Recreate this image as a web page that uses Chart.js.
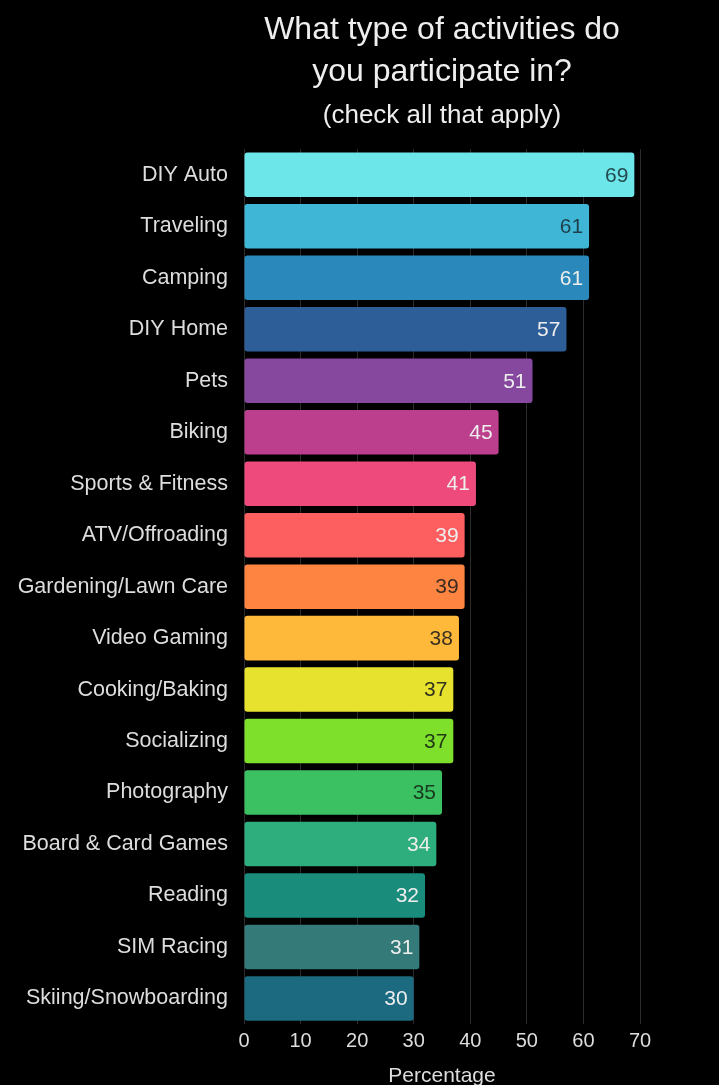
<!DOCTYPE html>
<html>
<head>
<meta charset="utf-8">
<script src="https://cdn.jsdelivr.net/npm/chart.js@4.4.1/dist/chart.umd.min.js"></script>
<style>
  html, body { margin: 0; padding: 0; background: #000; }
  #wrap { width: 719px; height: 1085px; }
</style>
</head>
<body>
<div id="wrap"><canvas id="activitiesChart"></canvas></div>
<script>
const activities = ['DIY Auto', 'Traveling', 'Camping', 'DIY Home', 'Pets', 'Biking', 'Sports & Fitness',
    'ATV/Offroading', 'Gardening/Lawn Care', 'Video Gaming', 'Cooking/Baking', 'Socializing',
    'Photography', 'Board & Card Games', 'Reading', 'SIM Racing', 'Skiing/Snowboarding'];
const percentages = [69, 61, 61, 57, 51, 45, 41, 39, 39, 38, 37, 37, 35, 34, 32, 31, 30];
const barColors = ['#6de6ea', '#3fb6d6', '#2a89ba', '#2d5e98', '#86479e', '#bc3f8e', '#ee4b7c',
    '#fd5e5f', '#fe8442', '#ffb93a', '#e7e22d', '#7fe02c', '#3cc162', '#2fae7d', '#1a8c7b',
    '#347a78', '#1b6a80'];
const valueColors = ['#234b50', '#1f3f4a', '#eeeeee', '#eeeeee', '#eeeeee', '#eeeeee', '#eeeeee',
    '#eeeeee', '#3a2a20', '#3a3020', '#333320', '#223a15', '#16391f', '#eeeeee', '#eeeeee',
    '#eeeeee', '#eeeeee'];
const xTicks = [0, 10, 20, 30, 40, 50, 60, 70];

const fontFamily = '"Liberation Sans", Arial, sans-serif';

// numbers written inside the end of each bar
const valueLabels = {
    id: 'valueLabels',
    afterDatasetsDraw(chart) {
        const ctx = chart.ctx;
        const meta = chart.getDatasetMeta(0);
        ctx.save();
        ctx.font = '21px ' + fontFamily;
        ctx.textAlign = 'right';
        ctx.textBaseline = 'middle';
        meta.data.forEach((bar, i) => {
            ctx.fillStyle = valueColors[i];
            ctx.fillText(percentages[i], bar.x - 6, bar.y + 1);
        });
        ctx.restore();
    }
};

new Chart(document.getElementById('activitiesChart'), {
    type: 'bar',
    data: {
        labels: activities,
        datasets: [{
            data: percentages,
            backgroundColor: barColors,
            borderRadius: 3,
            borderSkipped: false,
            barPercentage: 0.865,
            categoryPercentage: 1
        }]
    },
    options: {
        indexAxis: 'y',
        responsive: true,
        maintainAspectRatio: false,
        animation: false,
        layout: { padding: { left: 0, right: 79, top: 0, bottom: 0 } },
        scales: {
            x: {
                min: 0,
                max: 70,
                afterBuildTicks(scale) {
                    scale.ticks = xTicks.map(v => ({ value: v }));
                },
                grid: { color: '#2c2c2c', drawTicks: false, lineWidth: 1 },
                border: { display: false },
                ticks: {
                    color: '#dddddd',
                    padding: 5,
                    font: { family: fontFamily, size: 20 }
                },
                title: {
                    display: true,
                    text: 'Percentage',
                    color: '#dddddd',
                    padding: { top: 10, bottom: 0 },
                    font: { family: fontFamily, size: 21, lineHeight: 0.8 }
                }
            },
            y: {
                afterFit(scale) { scale.width = 244; },
                grid: { display: false, drawTicks: false },
                border: { display: false },
                ticks: {
                    color: '#dddddd',
                    padding: 16,
                    font: { family: fontFamily, size: 21.5 }
                }
            }
        },
        plugins: {
            legend: { display: false },
            tooltip: { enabled: false },
            title: {
                display: true,
                fullSize: false,
                text: ['What type of activities do', 'you participate in?'],
                color: '#eeeeee',
                padding: { top: 9, bottom: 8 },
                font: { family: fontFamily, size: 32, weight: 'normal', lineHeight: 1.32 }
            },
            subtitle: {
                display: true,
                fullSize: false,
                text: '(check all that apply)',
                color: '#eeeeee',
                padding: { top: 0, bottom: 19 },
                font: { family: fontFamily, size: 26, weight: 'normal', lineHeight: 1.1 }
            }
        }
    },
    plugins: [valueLabels]
});
</script>
</body>
</html>
